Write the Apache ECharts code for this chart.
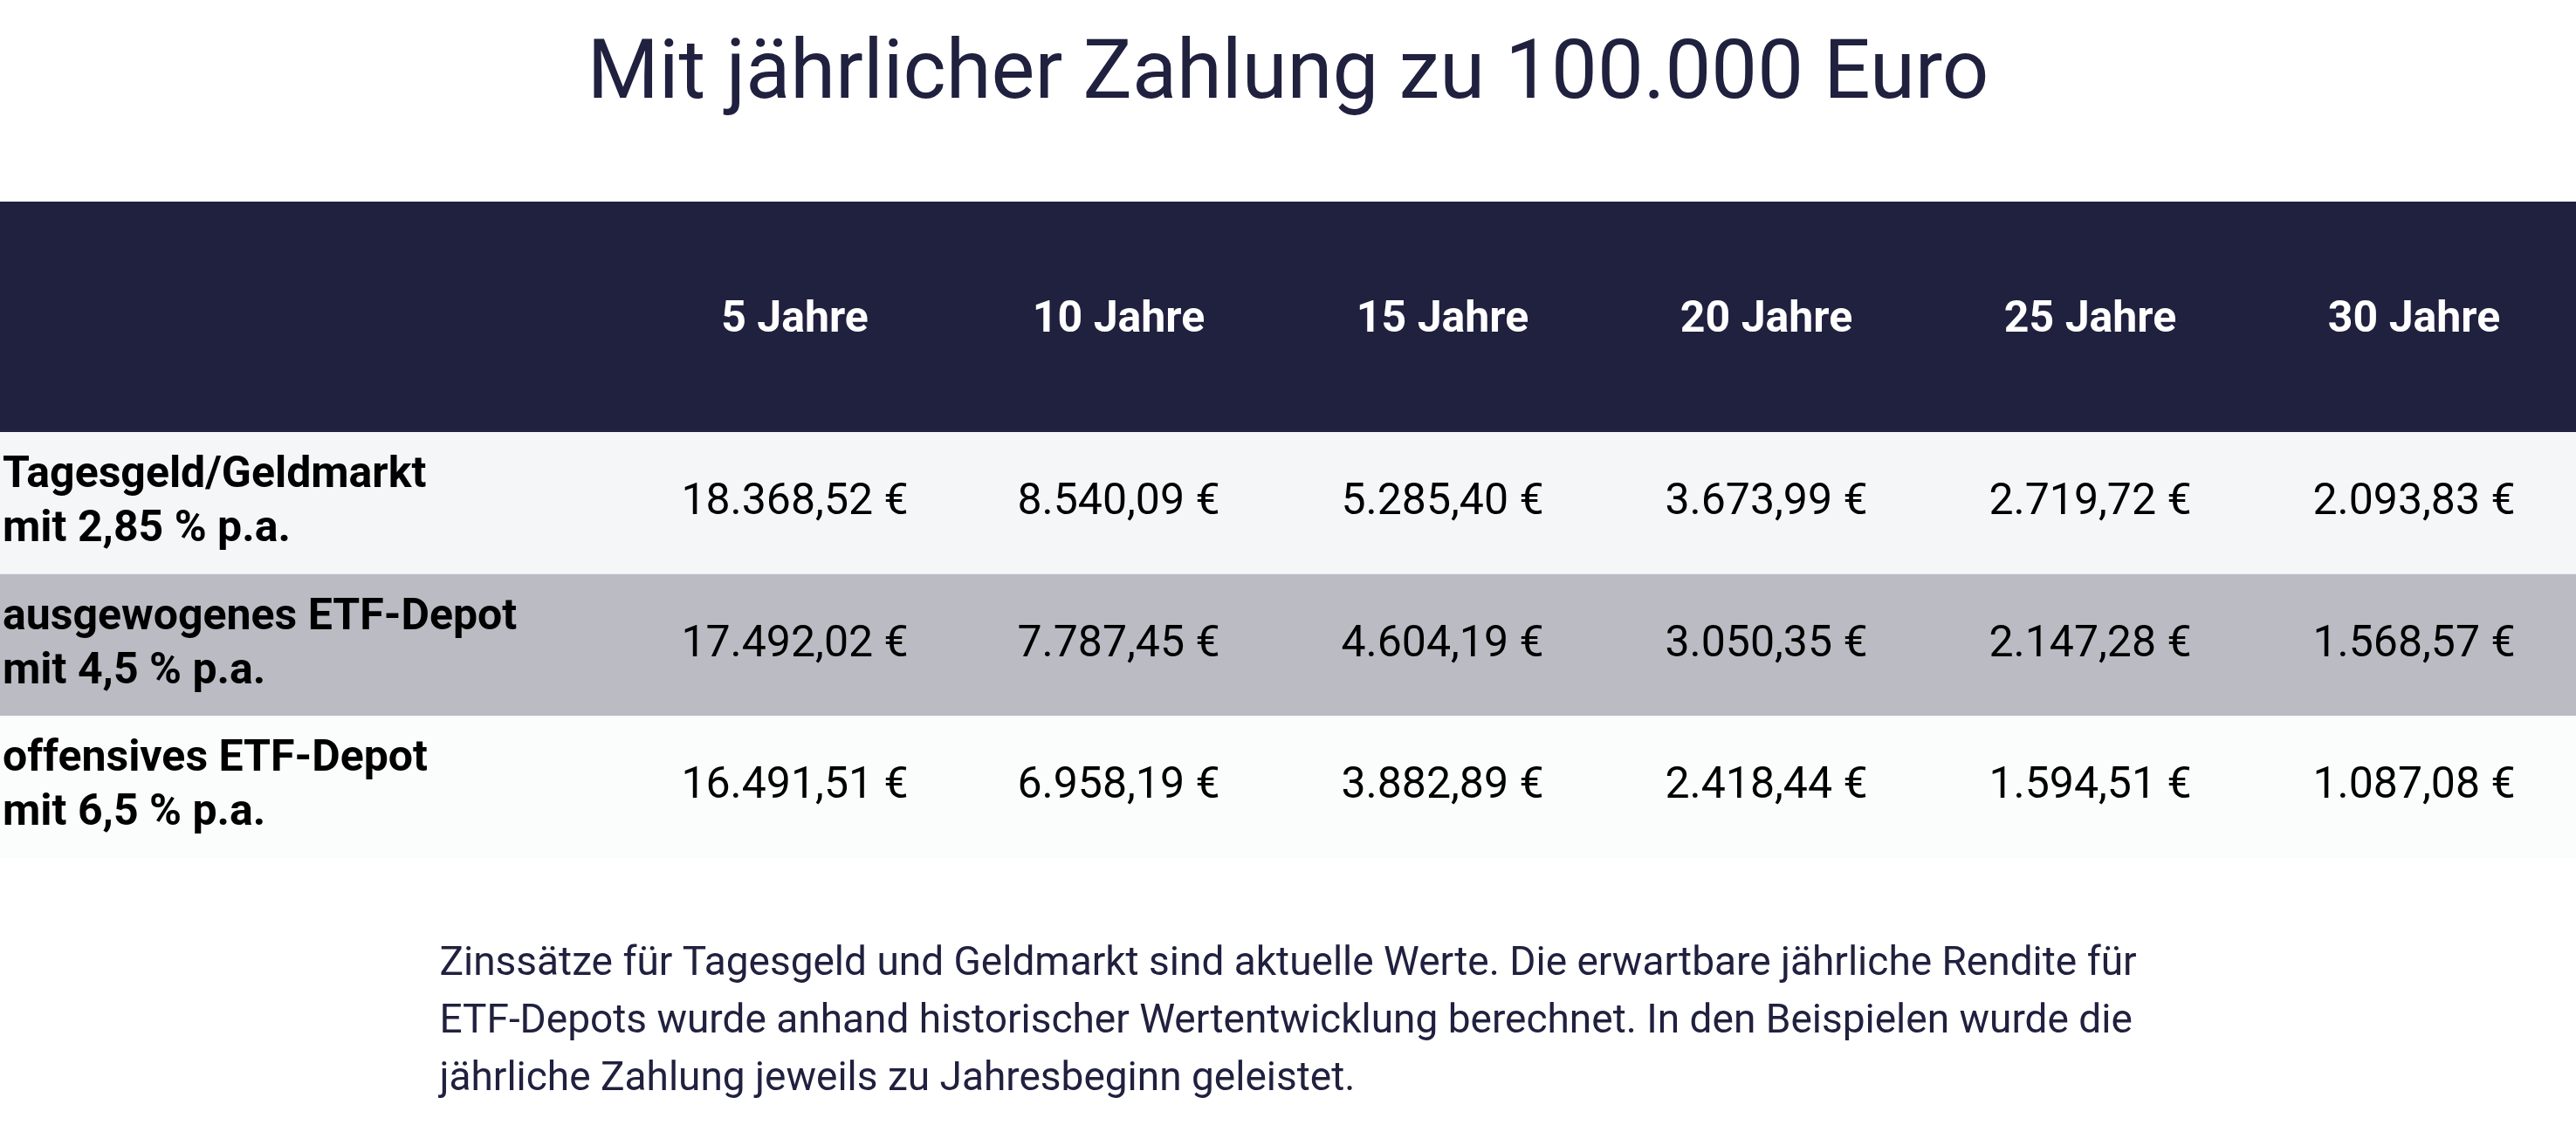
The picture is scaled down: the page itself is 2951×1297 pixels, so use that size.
<!DOCTYPE html>
<html><head><meta charset="utf-8">
<script src="https://cdn.jsdelivr.net/npm/echarts@6/dist/echarts.min.js"></script>
<style>html,body{margin:0;padding:0;background:#fff}#c{width:2951px;height:1297px}</style>
</head><body><div id="c"></div>
<script>
var columns = ['5 Jahre', '10 Jahre', '15 Jahre', '20 Jahre', '25 Jahre', '30 Jahre'];
var rowLabels = ['Tagesgeld/Geldmarkt\nmit 2,85 % p.a.', 'ausgewogenes ETF-Depot\nmit 4,5 % p.a.', 'offensives ETF-Depot\nmit 6,5 % p.a.'];
var rowColors = ['#f5f6f8', '#bbbbc4', '#fbfcfc'];
var tagesgeld = ['18.368,52 €', '8.540,09 €', '5.285,40 €', '3.673,99 €', '2.719,72 €', '2.093,83 €'];
var ausgewogen = ['17.492,02 €', '7.787,45 €', '4.604,19 €', '3.050,35 €', '2.147,28 €', '1.568,57 €'];
var offensiv = ['16.491,51 €', '6.958,19 €', '3.882,89 €', '2.418,44 €', '1.594,51 €', '1.087,08 €'];
var footnote = 'Zinssätze für Tagesgeld und Geldmarkt sind aktuelle Werte. Die erwartbare jährliche Rendite für\nETF-Depots wurde anhand historischer Wertentwicklung berechnet. In den Beispielen wurde die\njährliche Zahlung jeweils zu Jahresbeginn geleistet.';

var myChart = echarts.init(document.getElementById('c'));
var cells = [];
[tagesgeld, ausgewogen, offensiv].forEach(function (row, r) {
    row.forEach(function (v, c) { cells.push([c, r, v]); });
});
var rowData = rowLabels.map(function (l, r) { return [0, r, l]; });
var font = 'Roboto';

var option = {
    title: {
        text: 'Mit jährlicher Zahlung zu 100.000 Euro',
        left: 'center', top: 36,
        textStyle: { fontFamily: font, fontSize: 94, fontWeight: 'normal', color: '#20203f' }
    },
    graphic: [{
        type: 'rect', z: -1,
        shape: { x: 0, y: 231, width: 2951, height: 264 },
        style: { fill: '#20203f' }
    }, {
        type: 'text', left: 'center', top: 1072,
        style: {
            text: footnote, fill: '#20203f', font: '46px Roboto',
            align: 'center', lineHeight: 66
        }
    }],
    grid: { left: 725, right: 0, top: 495, height: 488 },
    xAxis: {
        type: 'category', data: columns, position: 'top',
        axisLine: { show: false }, axisTick: { show: false }, splitLine: { show: false },
        axisLabel: { margin: 128, verticalAlign: 'middle', color: '#ffffff', fontFamily: font, fontSize: 50, fontWeight: 'bold' }
    },
    yAxis: {
        type: 'category', data: [0, 1, 2], inverse: true, show: false
    },
    series: [{
        type: 'custom', z: 1,
        data: rowData,
        renderItem: function (params, api) {
            var r = api.value(1);
            var h = api.size([0, 1])[1];
            var cy = api.coord([0, r])[1];
            return {
                type: 'group',
                children: [{
                    type: 'rect',
                    shape: { x: 0, y: cy - h / 2, width: 2951, height: h },
                    style: { fill: rowColors[r] }
                }, {
                    type: 'text',
                    style: {
                        x: 3, y: cy, text: rowLabels[r], fill: '#000',
                        font: 'bold 50px Roboto', verticalAlign: 'middle', align: 'left', lineHeight: 62
                    }
                }]
            };
        }
    }, {
        type: 'custom', z: 2,
        data: cells,
        renderItem: function (params, api) {
            var p = api.coord([api.value(0), api.value(1)]);
            return {
                type: 'text',
                style: {
                    x: p[0], y: p[1], text: cells[params.dataIndex][2], fill: '#000',
                    font: '50px Roboto', align: 'center', verticalAlign: 'middle'
                }
            };
        }
    }]
};
option && myChart.setOption(option);
</script></body></html>
